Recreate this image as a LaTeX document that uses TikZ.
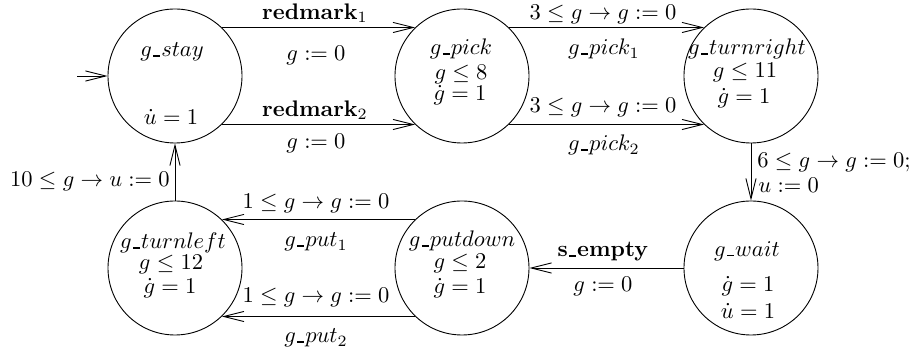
\documentclass[tikz,border=0pt]{standalone}
\usetikzlibrary{arrows.meta}
\newcommand{\ubar}{\kern.06em\rule{.3em}{.7pt}\kern.06em}
\tikzset{
  state/.style={circle,draw,thin,minimum size=59.5pt,inner sep=0pt},
  trans/.style={thin,-{Straight Barb[length=9pt,width=4.5pt]}},
  lbl/.style={inner sep=0pt},
}
\begin{document}
\begin{tikzpicture}[x=0.444pt,y=-0.444pt]
\useasboundingbox (0,0) rectangle (912,351);
% locations of the automaton
\foreach \n/\x/\y in {stay/175/76,pick/462/76,right/751/76,left/175/268,down/462/268,wait/751/268}
  \node[state] (\n) at (\x,\y) {};
% names, invariants and rates
\node[lbl] (stay-n) at (172,52) {$g\ubar stay$};
\node[lbl] (stay-r) at (171,117) {$\dot u = 1$};
\node[lbl] (pick-n) at (461,49) {$g\ubar pick$};
\node[lbl] (pick-i) at (461,74) {$g \le 8$};
\node[lbl] (pick-r) at (460,95) {$\dot g = 1$};
\node[lbl] (right-n) at (747,49) {$g\ubar turnright$};
\node[lbl] (right-i) at (745,72) {$g \le 11$};
\node[lbl] (right-r) at (744,98) {$\dot g = 1$};
\node[lbl] (left-n) at (173,243) {$g\ubar turnleft$};
\node[lbl] (left-i) at (171,264) {$g \le 12$};
\node[lbl] (left-r) at (170,288) {$\dot g = 1$};
\node[lbl] (down-n) at (462,241) {$g\ubar putdown$};
\node[lbl] (down-i) at (460,263) {$g \le 2$};
\node[lbl] (down-r) at (460,288) {$\dot g = 1$};
\node[lbl] (wait-n) at (747,251) {$g\ubar wait$};
\node[lbl] (wait-r) at (748,286) {$\dot g = 1$};
\node[lbl] (wait-u) at (748,311) {$\dot u = 1$};
% transitions
\coordinate (init) at (77,76);
\draw[trans] (init) -- (stay.west);
\draw[trans] (stay.46) -- (pick.134);
\draw[trans] (stay.-46) -- (pick.-134);
\draw[trans] (pick.46) -- (right.134);
\draw[trans] (pick.-46) -- (right.-134);
\draw[trans] (right.south) -- (wait.north);
\draw[trans] (wait.west) -- (down.east);
\draw[trans] (down.134) -- (left.46);
\draw[trans] (down.-134) -- (left.-46);
\draw[trans] (left.north) -- (stay.south);
% transition labels
\node[lbl] (t1-a) at (315,13) {$\mathbf{redmark}_1$};
\node[lbl] (t1-b) at (316,55) {$g := 0$};
\node[lbl] (t2-a) at (315,110) {$\mathbf{redmark}_2$};
\node[lbl] (t2-b) at (316,143) {$g := 0$};
\node[lbl] (t3-a) at (603,14) {$3 \le g \rightarrow g := 0$};
\node[lbl] (t3-b) at (604,49) {$g\ubar pick_1$};
\node[lbl] (t4-a) at (603,107) {$3 \le g \rightarrow g := 0$};
\node[lbl] (t4-b) at (604,145) {$g\ubar pick_2$};
\node[lbl,anchor=west] (t5-a) at (757,162) {$6 \le g \rightarrow g := 0;$};
\node[lbl,anchor=west] (t5-b) at (758,185) {$u := 0$};
\node[lbl] (t6-a) at (603,252) {$\mathbf{s\ubar empty}$};
\node[lbl] (t6-b) at (603,286) {$g := 0$};
\node[lbl] (t7-a) at (316,203) {$1 \le g \rightarrow g := 0$};
\node[lbl] (t7-b) at (316,242) {$g\ubar put_1$};
\node[lbl] (t8-a) at (316,297) {$1 \le g \rightarrow g := 0$};
\node[lbl] (t8-b) at (316,338) {$g\ubar put_2$};
\node[lbl] (t9) at (90,181) {$10 \le g \rightarrow u := 0$};
\end{tikzpicture}
\end{document}
